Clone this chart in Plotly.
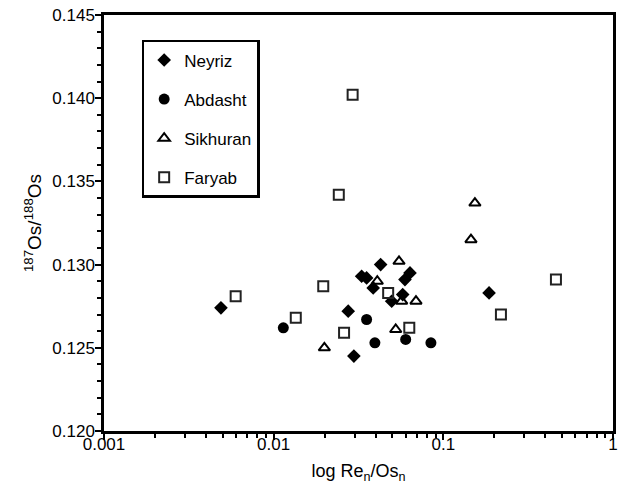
import plotly.graph_objects as go

# Neyriz (filled diamonds)
neyriz_x = [0.00489, 0.0275, 0.0297, 0.0427, 0.0330, 0.0353, 0.0386, 0.0636, 0.0594, 0.0576, 0.0496, 0.186]
neyriz_y = [0.1274, 0.1272, 0.1245, 0.1300, 0.1293, 0.1292, 0.1286, 0.1295, 0.1291, 0.1282, 0.1278, 0.1283]

# Abdasht (filled circles)
abdasht_x = [0.0114, 0.0353, 0.0395, 0.0600, 0.0845]
abdasht_y = [0.1262, 0.1267, 0.1253, 0.1255, 0.1253]

# Sikhuran (open triangles)
sikhuran_x = [0.0199, 0.0548, 0.0408, 0.0568, 0.0690, 0.0524, 0.1535, 0.1455]
sikhuran_y = [0.1250, 0.1302, 0.1290, 0.1278, 0.1278, 0.1261, 0.1337, 0.1315]

# Faryab (open squares)
faryab_x = [0.00597, 0.0135, 0.0196, 0.0260, 0.0473, 0.0630, 0.461, 0.2185, 0.0292, 0.0242]
faryab_y = [0.1281, 0.1268, 0.1287, 0.1259, 0.1283, 0.1262, 0.1291, 0.1270, 0.1402, 0.1342]

x_tickvals = [0.001, 0.01, 0.1, 1]
x_ticktext = ["0.001", "0.01", "0.1", "1"]
x_minor = [d * m for d in [0.001, 0.01, 0.1] for m in range(2, 10)]
y_tickvals = [0.120, 0.125, 0.130, 0.135, 0.140, 0.145]

FONT = "Liberation Sans, Arial, sans-serif"

fig = go.Figure()
fig.add_trace(go.Scatter(x=neyriz_x, y=neyriz_y, mode="markers", name="Neyriz", legendgroup="a",
                         marker=dict(symbol="diamond", size=10.5, color="black", line=dict(width=0))))
fig.add_trace(go.Scatter(x=abdasht_x, y=abdasht_y, mode="markers", name="Abdasht", legendgroup="b",
                         marker=dict(symbol="circle", size=11, color="black", line=dict(width=0))))
fig.add_trace(go.Scatter(x=sikhuran_x, y=sikhuran_y, mode="markers", name="Sikhuran", legendgroup="c",
                         marker=dict(symbol="triangle-up-open", size=10, color="black", line=dict(width=2, color="black"))))
fig.add_trace(go.Scatter(x=faryab_x, y=faryab_y, mode="markers", name="Faryab", legendgroup="d",
                         marker=dict(symbol="square-open", size=10, color="#222", line=dict(width=2, color="#222"))))

fig.update_layout(
    width=622, height=494,
    margin=dict(l=104, r=9, t=15, b=63),
    paper_bgcolor="white", plot_bgcolor="white",
    font=dict(family=FONT, size=17, color="black"),
    showlegend=True,
    legend=dict(x=0.074, y=0.94, xanchor="left", yanchor="top",
                bordercolor="black", borderwidth=2.5, bgcolor="white",
                font=dict(size=17), tracegroupgap=14, itemwidth=30),
)
fig.update_xaxes(
    type="log", range=[-3, 0], automargin=False,
    tickvals=x_tickvals, ticktext=x_ticktext,
    ticks="outside", ticklen=6, tickwidth=2, tickcolor="black",
    minor=dict(ticks="outside", ticklen=4, tickwidth=2, tickcolor="black", tickvals=x_minor, showgrid=False),
    showline=True, linewidth=2.5, linecolor="black", mirror=True,
    showgrid=False, zeroline=False,
    ticklabelstandoff=-10,
    title=dict(text="log Re<sub>n</sub>/Os<sub>n</sub>", font=dict(size=18, color="black"), standoff=12),
    tickfont=dict(size=17),
)
fig.update_yaxes(
    range=[0.120, 0.145], automargin=False,
    tickvals=y_tickvals, tickformat=".3f",
    ticks="outside", ticklen=6, tickwidth=2, tickcolor="black",
    minor=dict(ticks="outside", ticklen=4, tickwidth=2, tickcolor="black", dtick=0.001, showgrid=False),
    showline=True, linewidth=2.5, linecolor="black", mirror=True,
    showgrid=False, zeroline=False,
    ticklabelstandoff=-3,
    title=dict(text="<sup>187</sup>Os/<sup>188</sup>Os", font=dict(size=19, color="black"), standoff=6),
    tickfont=dict(size=17),
)

fig.write_html("out.html", config={"displayModeBar": False},
               post_script="document.body.style.margin='0';")
